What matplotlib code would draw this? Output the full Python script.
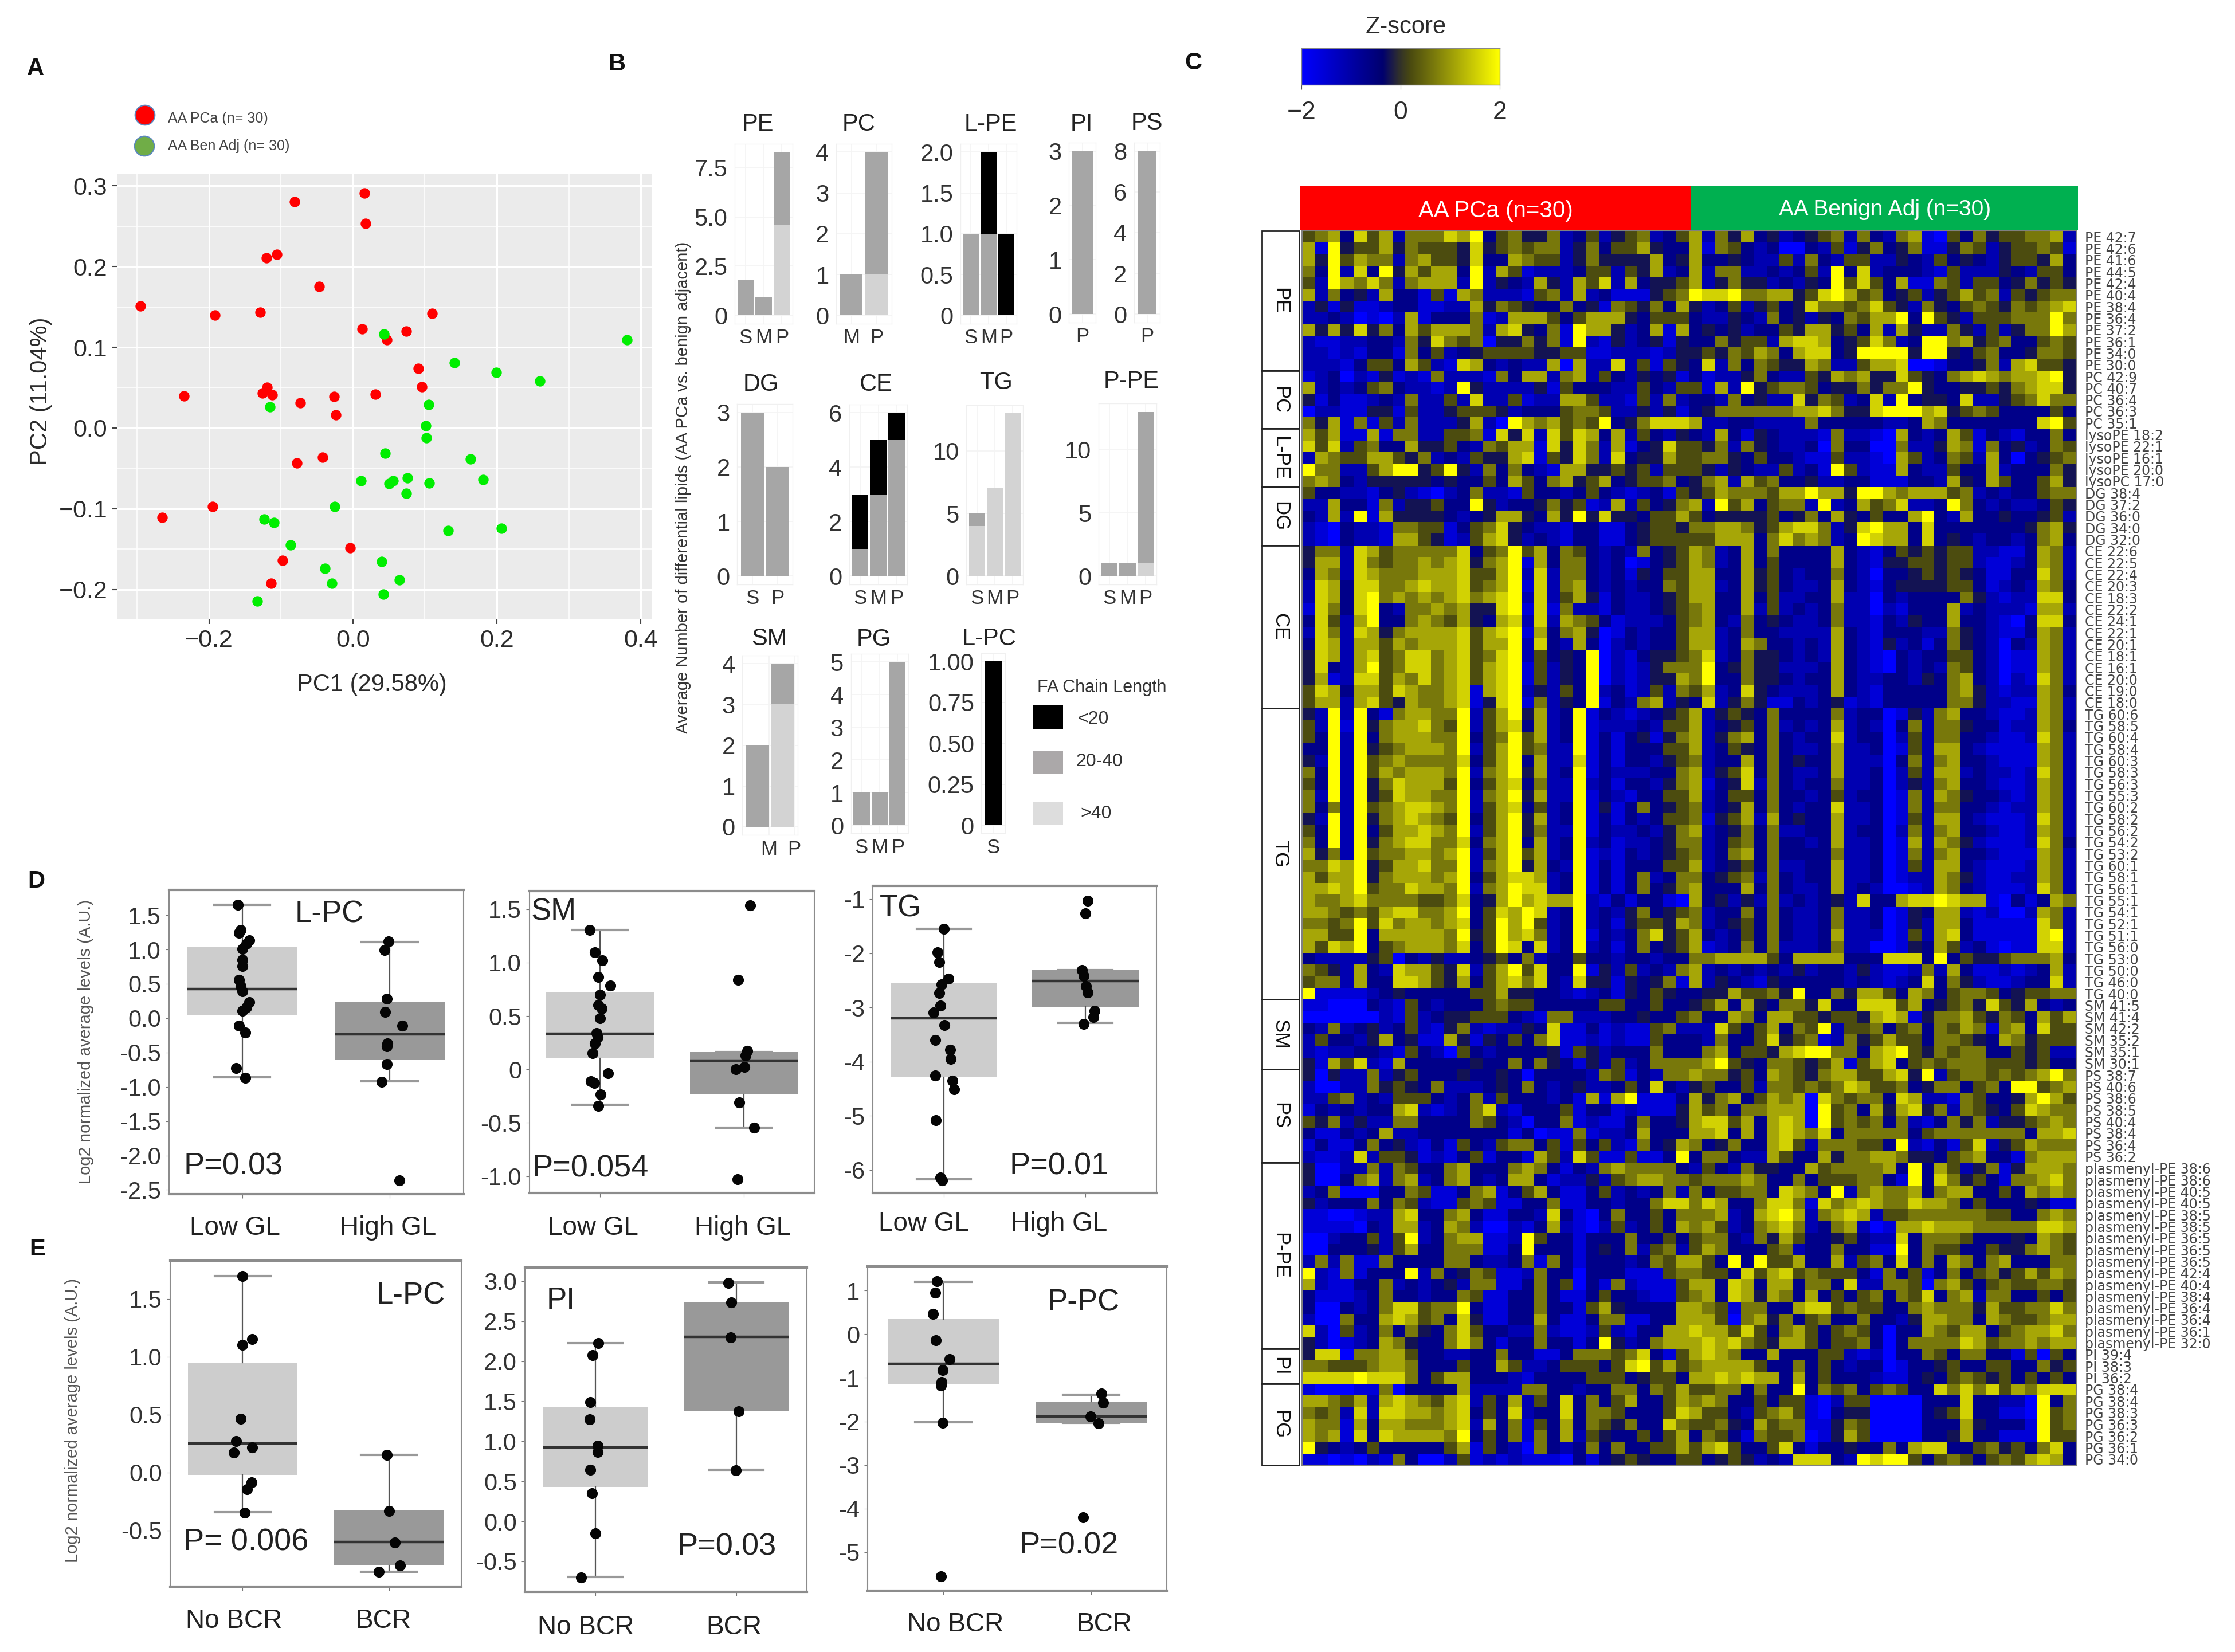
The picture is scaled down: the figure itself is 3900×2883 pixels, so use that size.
import numpy as np
import matplotlib
matplotlib.use('Agg')
import matplotlib.pyplot as plt
from matplotlib.colors import LinearSegmentedColormap
from matplotlib.patches import Rectangle
from matplotlib.transforms import ScaledTranslation

plt.rcParams['font.family'] = ['Liberation Sans', 'DejaVu Sans']
W, H = 3900, 2883
fig = plt.figure(figsize=(W / 100, H / 100), dpi=100, facecolor='white')
PT = 0.72
TXT = '#2b2b2b'

# ---------------- Panel A data
pca_x = [.016,-.081,.018,-.106,-.120,-.047,-.295,-.192,-.129,.110,.013,.074,.047,.091,.096,-.235,-.126,-.119,-.112,-.073,-.026,.031,-.024,-.042,-.078,-.195,-.265,-.004,-.098,-.114]
pca_y = [.291,.280,.253,.215,.211,.175,.151,.140,.143,.142,.123,.120,.109,.074,.051,.040,.043,.050,.041,.031,.039,.042,.016,-.036,-.043,-.097,-.111,-.148,-.164,-.192]
ben_x = [.043,.381,.141,.199,.260,.105,-.115,.101,.102,.045,.163,.076,.181,.011,.056,.050,.106,.074,-.025,-.123,-.110,.132,.206,-.087,.040,-.039,-.029,.065,.042,-.133]
ben_y = [.116,.109,.081,.069,.058,.029,.026,.003,-.012,-.031,-.038,-.062,-.064,-.065,-.065,-.069,-.068,-.081,-.097,-.113,-.117,-.127,-.124,-.145,-.165,-.174,-.192,-.188,-.206,-.214]

# ---------------- Panel B data: (categories, light >40, medium 20-40, black <20)
PE_cats, PE_light, PE_med, PE_black = ['S','M','P'], [0,0,4.6], [1.8,.9,3.7], [0,0,0]
PC_cats, PC_light, PC_med, PC_black = ['M','P'], [0,1], [1,3], [0,0]
LPE_cats, LPE_light, LPE_med, LPE_black = ['S','M','P'], [0,0,0], [1,1,0], [0,1,1]
PI_cats, PI_light, PI_med, PI_black = ['P'], [0], [3], [0]
PS_cats, PS_light, PS_med, PS_black = ['P'], [0], [8], [0]
DG_cats, DG_light, DG_med, DG_black = ['S','P'], [0,0], [3,2], [0,0]
CE_cats, CE_light, CE_med, CE_black = ['S','M','P'], [0,0,0], [1,3,5], [2,2,1]
TG_cats, TG_light, TG_med, TG_black = ['S','M','P'], [4,7,13], [1,0,0], [0,0,0]
PPE_cats, PPE_light, PPE_med, PPE_black = ['S','M','P'], [0,0,1], [1,1,12], [0,0,0]
SM_cats, SM_light, SM_med, SM_black = ['M','P'], [0,3], [2,1], [0,0]
PG_cats, PG_light, PG_med, PG_black = ['S','M','P'], [0,0,0], [1,1,5], [0,0,0]
LPC_cats, LPC_light, LPC_med, LPC_black = ['S'], [0], [0], [1]

# ---------------- Panel C data: one digit per cell, 0 = z -2 ... 9 = z +2
heat_PE = [
"5673857266 6879356446 2352456235 7264734234 5626326710 5364556672",
"7194557465 5548456566 2463557433 7165323003 2514634611 4652455651",
"7495766267 5548337655 2464444734 7334322526 3255224325 3432455473",
"6392839475 7739275122 2355254723 7266223235 2938233321 5222432553",
"5297686267 7729243274 2758273445 7246442324 3958537116 5255346454",
"7263427331 5176222156 2723111456 9889667745 8975634524 5756254566",
"2414112331 1227465433 6341654637 4235245348 6656854264 3565465678",
"2232010271 3336127775 3577743555 3224326342 4365779395 4255566696",
"7474846375 7776278436 1977423717 3434233547 7453727422 6425246697",
"2112233264 8656044646 1921423414 3364552788 7345862399 6745633565",
"2212133163 5234555544 5511222124 4546576378 8349999499 4356334665",
"2221355375 2187323227 0722825154 3826365447 6225778001 3346278554",
]
heat_PC = [
"1230214121 6222163772 6725324341 3122463225 4767448543 6787677894",
"7232356322 1294222241 5333225325 5172945665 3446466943 3445467884",
"4131123262 2528225122 7752215262 3326342284 6523829344 3822456866",
"0221144152 2455542333 5665224241 3466666677 8644899978 4565333353",
"6471615262 2247209767 5659346888 7223322226 3333322376 3333333895",
]
heat_LPE = [
"7571171662 2556184828 5873725324 3273143222 1622107323 7513213363",
"8582563374 4532657718 4862713485 5462643223 0633006224 7616342365",
"2765577546 2325447815 4862834475 5664353321 1522107523 6527303456",
"9662257994 5942636321 7744545255 5424322523 1952117322 5337233364",
"6763244444 3433537536 7457345563 4672756334 2233111332 7437533574",
]
heat_DG = [
"5332213421 0236221533 2353212315 4576665779 7749976777 5623233566",
"2273316244 5339423346 4512725346 7295735662 9237568223 9632322354",
"3272917444 4323477437 4948443557 5344445346 3743533793 2733433452",
"2103221665 5135684322 1331134554 6677645788 6248977383 3333334674",
"2103221775 4125784232 1331134555 5577736867 6239877383 4323323673",
]
heat_CE = [
"4662875666 6683569573 6532326345 7623736333 3732135454 5522113762",
"4772865667 6784679173 6632301345 7623735333 3732144554 5521123762",
"3762876667 7785579282 6632314355 7733745323 3632033454 5431133862",
"2873886678 7785679182 6732323365 7723745322 3732134444 5531232763",
"2873896767 6786789282 5741322345 7733735223 3722032333 3642122883",
"1863893266 7674489181 6221322345 6733725232 3622021333 7232221772",
"3852793367 6574378282 7653122235 6732634322 3622132433 7332103883",
"2862874677 7785789173 6740132335 7723633222 2732133322 6432113762",
"3872775767 7785779283 2730232335 7723763323 2732142313 6432032762",
"4872785688 6785689253 4390213445 6823644323 2732103233 5532011762",
"4832795688 6785789152 4390212466 6934644222 3732103232 6532011762",
"4712885768 6785789152 4390212447 6933644323 3732233243 6732021862",
"5873775876 6781789242 5392312526 5723843222 3732133333 6742122763",
"5772785476 6781489162 4391326724 3824641132 3412133333 6642211762",
]
heat_TG = [
"4292931677 6692579472 3913212345 7245436333 3623301426 7332112762",
"5291946778 6592578372 3912223255 7234536232 3723203626 6433122763",
"5392936777 6693569572 3913134146 7246736323 3823302526 6332112862",
"3392945677 7692579562 2913133355 7235436322 3722301527 7321111762",
"4292956766 6683579372 2813133245 6233736343 3722203626 7332111762",
"6392957677 7692679472 3913222336 7245836322 3722302527 7232212862",
"5392946877 7593578362 2923133246 7134826323 3622302426 7332112762",
"6292945877 6692679472 2913213355 7235536332 3523301627 6433212762",
"6362956788 7692578352 3914136345 6234736323 3822301626 6332122762",
"4292946787 6593579472 3913132355 6145727343 3722301527 7321112862",
"5392935778 7692579462 2913223246 7234636223 3723302626 7332112762",
"6392946788 6683679372 3923122346 6235636332 3722301727 6421112863",
"7462956677 6792579572 3912132345 6236736333 3622301626 7332111762",
"6687945778 6692679473 2913133355 7234536223 3722301527 7321112762",
"7577946777 6793578872 3913136236 6345626323 3722301227 6421122762",
"7787956687 7692679882 3913136346 7333736322 3723200127 6321112862",
"7667866665 5683479787 7921313310 7342426232 3428337889 8771031376",
"7765657886 6793587982 3923246345 6233636322 3622301437 7212002762",
"6656958677 6783597952 3923145547 6234536322 3622301427 7311111862",
"7755937777 7694597862 3913236845 7323536322 3722201527 8311111892",
"7587935677 7683598382 3923136345 7123636222 3622001437 5231011882",
"3222245032 4223453623 3533233233 6677775377 7733388839 3544566673",
"6542732877 5482579583 3914252326 7232323242 3324211262 7311212372",
"5662733887 5473578683 2844143461 7243214333 3323212383 6421123382",
"9111123433 3335574433 2123143543 3447556493 3647753763 5665345566",
]
heat_SM = [
"1100032153 2333565533 3335533533 4573743664 8338885734 5648547323",
"0000002152 3445553216 6222334335 6337637755 4554787146 6754653757",
"3262342352 1462122438 1131211562 2285357365 9255635636 5761673855",
"2533247341 1741435368 1121211533 3263358456 1264575536 6543764555",
"2122332153 2053233334 1542333633 3673554789 9663789546 5663354522",
"4175821733 3334336364 3142523666 6795436654 5715783565 6665554533",
]
heat_PS = [
"4042262453 3343343033 3326513266 7664537654 6775578492 5665656796",
"2002264543 6222343632 3422353832 4533526656 5687556346 6356399567",
"2256232555 3236253332 3171791113 7467357670 8656638722 1653347975",
"1323233782 1236821333 5133121114 7563667770 9563747846 2654358766",
"5462422663 3336532033 6121136334 7885737870 9565636213 6462445676",
"3113237223 3333331301 1612237333 7783737876 8366666356 6666663778",
"1311363421 3153256635 1535216347 6346337852 6665539213 1582457666",
"2112825541 2135133175 2851151139 3663227533 7466776443 5673316777",
]
heat_PPE = [
"4002262653 3673336763 1326766663 2532644337 5666673937 5246147776",
"4003672672 3673237731 2242567766 5666763363 5556631938 6453166786",
"2360003365 1136713573 1135232362 6355663876 3926766736 7733537676",
"4233363652 1156511336 1133233688 6873368861 8678766877 6353334311",
"1100122783 3673113328 3103633536 6672378972 6787255666 6665533676",
"1111032772 3762002137 2102523537 6752367862 3672017787 7766666887",
"0023352592 3677112953 3133363353 5663264753 3453228366 6533343765",
"0033342573 3666113933 3134362562 5763335623 3633119365 5335446765",
"2626116333 3663223616 3133323657 7539395573 3725638363 7636733366",
"9216133392 6346511263 3033311156 6553857856 5553163513 6356457576",
"7211336232 3426611363 5031621115 7738737736 6382266506 7535655665",
"3111236332 3365113363 1135332115 6738747637 3535636583 6726633535",
"3003236885 6693113363 3157433337 7651663378 8565533676 6647556686",
"2006337875 6384113373 1136611337 7750674635 6336332477 6637655677",
"8205236364 3685332262 1125213377 8775853675 3565303376 5773567786",
"4201237643 3686313363 3139423677 7878654775 3556303666 6875667677",
]
heat_PI = [
"4880667753 3223363311 3666568315 7876337333 5521203365 3663315053",
"6655567763 3353375223 5553589575 6777753363 5323301334 5335533645",
"8888988863 5773332133 3355534553 7787877373 5333211343 5654535353",
]
heat_PG = [
"1000116033 3372222663 3233663657 5566363393 6563565338 6868576888",
"7765727876 5782537253 8363573357 6763353551 0255000033 3833220936",
"6562828877 6783538233 8366533358 7553256751 0344000034 5833110956",
"7661737766 6782736153 7365463386 5564375661 1465000033 3743331956",
"7671838777 7693536163 7254335357 3653165560 1475000033 4733111955",
"9432353333 3571532063 2363633557 5785335831 3343363788 3356453683",
"1101021630 0251212111 0313454335 5345423288 8329899535 6535657873",
]
row_labels = (
    ['PE 42:7','PE 42:6','PE 41:6','PE 44:5','PE 42:4','PE 40:4','PE 38:4','PE 36:4','PE 37:2','PE 36:1','PE 34:0','PE 30:0'] +
    ['PC 42:9','PC 40:7','PC 36:4','PC 36:3','PC 35:1'] +
    ['lysoPE 18:2','lysoPE 22:1','lysoPE 16:1','lysoPE 20:0','lysoPC 17:0'] +
    ['DG 38:4','DG 37:2','DG 36:0','DG 34:0','DG 32:0'] +
    ['CE 22:6','CE 22:5','CE 22:4','CE 20:3','CE 18:3','CE 22:2','CE 24:1','CE 22:1','CE 20:1','CE 18:1','CE 16:1','CE 20:0','CE 19:0','CE 18:0'] +
    ['TG 60:6','TG 58:5','TG 60:4','TG 58:4','TG 60:3','TG 58:3','TG 56:3','TG 55:3','TG 60:2','TG 58:2','TG 56:2','TG 54:2','TG 53:2','TG 60:1','TG 58:1','TG 56:1','TG 55:1','TG 54:1','TG 52:1','TG 51:1','TG 56:0','TG 53:0','TG 50:0','TG 46:0','TG 40:0'] +
    ['SM 41:5','SM 41:4','SM 42:2','SM 35:2','SM 35:1','SM 30:1'] +
    ['PS 38:7','PS 40:6','PS 38:6','PS 38:5','PS 40:4','PS 38:4','PS 36:4','PS 36:2'] +
    ['plasmenyl-PE 38:6','plasmenyl-PE 38:6','plasmenyl-PE 40:5','plasmenyl-PE 40:5','plasmenyl-PE 38:5','plasmenyl-PE 38:5','plasmenyl-PE 36:5','plasmenyl-PE 36:5','plasmenyl-PE 36:5','plasmenyl-PE 42:4','plasmenyl-PE 40:4','plasmenyl-PE 38:4','plasmenyl-PE 36:4','plasmenyl-PE 36:4','plasmenyl-PE 36:1','plasmenyl-PE 32:0'] +
    ['PI 39:4','PI 38:3','PI 36:2'] +
    ['PG 38:4','PG 38:4','PG 38:3','PG 36:3','PG 36:2','PG 36:1','PG 34:0'])
group_names = ['PE','PC','L-PE','DG','CE','TG','SM','PS','P-PE','PI','PG']
group_rows = [heat_PE, heat_PC, heat_LPE, heat_DG, heat_CE, heat_TG, heat_SM, heat_PS, heat_PPE, heat_PI, heat_PG]

# ---------------- Panels D / E data
D1_low = dict(q1=.043, med=.424, q3=1.046, whislo=-.858, whishi=1.654)
D1_high = dict(q1=-.604, med=-.235, q3=.232, whislo=-.916, whishi=1.108)
D1_low_y = [1.654,1.281,1.238,1.137,1.082,1.01,.847,.757,.557,.467,.395,.232,.159,.105,-.112,-.21,-.728,-.872]
D1_low_j = [-.03,-.01,-.02,.05,.03,0,0,0,-.02,-.01,0,.05,.03,0,-.02,.02,-.04,.02]
D1_high_y = [1.119,.992,.286,.087,-.112,-.366,-.409,-.666,-.927,-2.364]
D1_high_j = [-.01,-.035,-.02,-.03,.085,-.015,-.02,-.02,-.055,.065]
D2_low = dict(q1=.105, med=.333, q3=.726, whislo=-.33, whishi=1.305)
D2_high = dict(q1=-.233, med=.081, q3=.163, whislo=-.544, whishi=.163)
D2_low_y = [1.305,1.098,1.023,.865,.784,.698,.6,.57,.477,.337,.302,.244,.151,-.035,-.112,-.128,-.233,-.342]
D2_low_j = [-.07,-.035,.015,-.01,.07,0,-.01,.01,0,-.025,-.015,-.035,-.05,.055,-.065,-.04,.005,-.01]
D2_high_y = [1.535,.837,.174,.128,.023,0,-.309,-.547,-1.03]
D2_high_j = [.045,-.04,.025,.01,.005,-.055,-.03,.07,-.045]
D3_low = dict(q1=-4.29, med=-3.2, q3=-2.55, whislo=-6.17, whishi=-1.555)
D3_high = dict(q1=-2.99, med=-2.51, q3=-2.31, whislo=-3.29, whishi=-2.31)
D3_low_y = [-1.555,-1.986,-2.16,-2.47,-2.58,-2.74,-2.97,-3.1,-3.33,-3.6,-3.78,-3.95,-4.26,-4.35,-4.51,-5.08,-6.14,-6.19]
D3_low_j = [0,-.045,-.03,.035,-.015,-.03,-.025,-.07,.005,-.06,.045,.05,-.06,.06,.075,-.055,-.025,-.01]
D3_high_y = [-1.03,-1.27,-2.31,-2.42,-2.61,-2.72,-3.06,-3.18,-3.31]
D3_high_j = [.015,0,-.025,-.015,.005,.015,.065,.055,-.015]
E1_low = dict(q1=-.019, med=.253, q3=.949, whislo=-.341, whishi=1.697)
E1_high = dict(q1=-.8, med=-.599, q3=-.327, whislo=-.854, whishi=.151)
E1_low_y = [1.697,1.153,1.105,.464,.272,.215,.175,-.085,-.144,-.346]
E1_low_j = [0,.065,0,-.015,-.045,.065,-.06,.06,.03,.015]
E1_high_y = [.151,-.334,-.606,-.8,-.857]
E1_high_j = [-.015,0,.04,.075,-.07]
E2_low = dict(q1=.428, med=.925, q3=1.432, whislo=-.692, whishi=2.223)
E2_high = dict(q1=1.377, med=2.305, q3=2.74, whislo=.644, whishi=2.983)
E2_low_y = [2.223,2.075,1.486,1.271,.945,.866,.644,.353,-.151,-.699]
E2_low_j = [.02,-.02,-.035,-.04,.015,.015,-.035,-.025,0,-.1]
E2_high_y = [2.98,2.733,2.298,1.373,.637]
E2_high_j = [-.055,-.035,-.04,.015,-.005]
E3_low = dict(q1=-1.145, med=-.673, q3=.346, whislo=-2.013, whishi=1.195)
E3_high = dict(q1=-2.031, med=-1.887, q3=-1.541, whislo=-2.031, whishi=-1.384)
E3_low_y = [1.214,.943,.459,-.138,-.579,-.83,-1.1,-1.182,-2.031,-5.553]
E3_low_j = [-.04,-.055,-.07,-.05,.045,-.005,-.01,-.015,-.005,-.015]
E3_high_y = [-1.365,-1.572,-1.887,-2.044,-4.195]
E3_high_j = [.07,.08,-.005,.05,-.055]


def ax_px(x0, y0, x1, y1, **kw):
    return fig.add_axes([x0 / W, 1 - y1 / H, (x1 - x0) / W, (y1 - y0) / H], **kw)


# ---------------- overlay for free text
ov = ax_px(0, 0, W, H, zorder=20)
ov.set_xlim(0, W); ov.set_ylim(H, 0); ov.axis('off'); ov.patch.set_alpha(0)


def T(x, y, s, size, color=TXT, ha='center', va='center', **kw):
    ov.text(x, y, s, fontsize=size, color=color, ha=ha, va=va, **kw)


for (x, y, s) in [(62, 120, 'A'), (1076, 112, 'B'), (2082, 110, 'C'), (63, 1538, 'D'), (65, 2180, 'E')]:
    T(x, y, s, 30, color='#111111', fontweight='bold')

# ---------------- Panel A
axA = ax_px(204, 303, 1137, 1081, facecolor='#EBEBEB')
axA.set_xlim(-.328, .415); axA.set_ylim(-.237, .315)
axA.set_xticks([-.2, 0, .2, .4], ['\u22120.2', '0.0', '0.2', '0.4'])
axA.set_yticks([-.2, -.1, 0, .1, .2, .3], ['\u22120.2', '\u22120.1', '0.0', '0.1', '0.2', '0.3'])
axA.set_xticks([-.3, -.1, .1, .3], minor=True)
axA.set_yticks([-.15, -.05, .05, .15, .25], minor=True)
axA.grid(True, which='major', color='white', lw=2.2)
axA.grid(True, which='minor', color='white', lw=1.1)
axA.set_axisbelow(True)
for sp in axA.spines.values():
    sp.set_visible(False)
axA.tick_params(axis='both', which='minor', length=0)
axA.tick_params(axis='both', which='major', labelsize=31, length=6, width=1.5, color='#444444', labelcolor=TXT, pad=6)
axA.scatter(pca_x, pca_y, s=175, color='#FF0000', linewidths=0, zorder=3)
axA.scatter(ben_x, ben_y, s=175, color='#00EE00', linewidths=0, zorder=3)
T(649, 1195, 'PC1 (29.58%)', 30)
T(71, 683, 'PC2 (11.04%)', 30, rotation=90)
ov.scatter([253, 252], [201, 255], s=620, color=['#FF0000', '#70AD47'], edgecolors='#5B87C0', linewidths=1.5)
T(293, 207, 'AA PCa (n= 30)', 18, color='#444444', ha='left')
T(293, 255, 'AA Ben Adj (n= 30)', 18, color='#444444', ha='left')

# ---------------- Panel B
C_L, C_M, C_K = '#D3D3D3', '#A6A6A6', '#000000'


def barpanel(title, tx, ty, cats, light, med, black, zx0, zx1, ztop, zbase, ticks, labels, off=0.0):
    fx = lambda z: 1150 + z / 1.65
    fy = lambda z: 60 + z / 1.081
    gap = .05 * (zbase - ztop)
    ax = ax_px(fx(zx0), fy(ztop - gap), fx(zx1), fy(zbase + gap))
    n = len(cats)
    pos = np.arange(1, n + 1)
    light, med, black = map(np.array, (light, med, black))
    ax.bar(pos, light, .9, color=C_L, zorder=3)
    ax.bar(pos, med, .9, bottom=light, color=C_M, zorder=3)
    ax.bar(pos, black, .9, bottom=light + med, color=C_K, zorder=3)
    m = (light + med + black).max()
    ax.set_xlim(.4, n + .6)
    ax.set_ylim(-.05 * m, 1.05 * m)
    ax.set_yticks(ticks, labels)
    ax.set_xticks(pos + off, cats)
    ax.grid(True, color='#F4F4F4', lw=1.2)
    ax.set_axisbelow(True)
    ax.tick_params(axis='y', labelsize=30, length=0, pad=9, labelcolor='#333333')
    ax.tick_params(axis='x', labelsize=25, length=0, pad=6, labelcolor='#333333')
    for sp in ax.spines.values():
        sp.set_color('#F0F0F0'); sp.set_linewidth(1)
    T(fx(tx), fy(ty), title, 30, color='#222222')


barpanel('PE', 285, 170, PE_cats, PE_light, PE_med, PE_black, 218, 385, 222, 530, [0, 2.5, 5, 7.5], ['0', '2.5', '5.0', '7.5'])
barpanel('PC', 575, 170, PC_cats, PC_light, PC_med, PC_black, 510, 670, 222, 530, [0, 1, 2, 3, 4], ['0', '1', '2', '3', '4'])
barpanel('L-PE', 955, 170, LPE_cats, LPE_light, LPE_med, LPE_black, 868, 1030, 222, 530, [0, .5, 1, 1.5, 2], ['0', '0.5', '1.0', '1.5', '2.0'])
barpanel('PI', 1216, 170, PI_cats, PI_light, PI_med, PI_black, 1180, 1258, 220, 528, [0, 1, 2, 3], ['0', '1', '2', '3'])
barpanel('PS', 1405, 168, PS_cats, PS_light, PS_med, PS_black, 1368, 1442, 220, 528, [0, 2, 4, 6, 8], ['0', '2', '4', '6', '8'])
barpanel('DG', 293, 660, DG_cats, DG_light, DG_med, DG_black, 225, 385, 713, 1022, [0, 1, 2, 3], ['0', '1', '2', '3'])
barpanel('CE', 625, 660, CE_cats, CE_light, CE_med, CE_black, 548, 715, 714, 1022, [0, 2, 4, 6], ['0', '2', '4', '6'])
barpanel('TG', 970, 657, TG_cats, TG_light, TG_med, TG_black, 885, 1048, 715, 1022, [0, 5, 10], ['0', '5', '10'])
barpanel('P-PE', 1360, 655, PPE_cats, PPE_light, PPE_med, PPE_black, 1265, 1432, 712, 1022, [0, 5, 10], ['0', '5', '10'])
barpanel('SM', 318, 1140, SM_cats, SM_light, SM_med, SM_black, 240, 400, 1187, 1495, [0, 1, 2, 3, 4], ['0', '1', '2', '3', '4'], off=.45)
barpanel('PG', 618, 1142, PG_cats, PG_light, PG_med, PG_black, 552, 718, 1184, 1492, [0, 1, 2, 3, 4, 5], ['0', '1', '2', '3', '4', '5'])
barpanel('L-PC', 950, 1140, LPC_cats, LPC_light, LPC_med, LPC_black, 928, 996, 1183, 1492, [0, .25, .5, .75, 1], ['0', '0.25', '0.50', '0.75', '1.00'])
T(1192, 851, 'Average Number of differential lipids (AA PCa vs. benign adjacent)', 21, rotation=90, color='#333333')
T(1923, 1200, 'FA Chain Length', 22, color='#333333')
for (y0, y1, c, s, yt, xt) in [(1230, 1272, '#000000', '<20', 1255, 1880), (1311, 1350, '#ABA8A9', '20-40', 1329, 1877), (1399, 1440, '#DDDDDD', '>40', 1420, 1885)]:
    ov.add_patch(Rectangle((1803, y0), 52, y1 - y0, color=c, lw=0))
    T(xt, yt, s, 23, color='#333333', ha='left')

# ---------------- Panel C
cmap = LinearSegmentedColormap.from_list('zs', [(0, '#0000FF'), (.41, '#00006E'), (.49, '#2E2E2E'), (.55, '#4A4A10'), (1, '#FFFF00')])
rows = [(s.replace(' ', '') + '4' * 60)[:60] for grp in group_rows for s in grp]
Z = np.array([[int(c) for c in r] for r in rows]) / 9 * 4 - 2
HX0, HY0, HX1, HY1 = 2272, 403, 3623, 2557
axH = ax_px(HX0, HY0, HX1, HY1)
axH.imshow(Z, cmap=cmap, vmin=-2, vmax=2, aspect='auto', interpolation='nearest')
axH.yaxis.tick_right()
axH.set_yticks(np.arange(len(row_labels)), row_labels, family='DejaVu Sans')
axH.set_xticks([])
axH.tick_params(axis='y', length=0, pad=11, labelsize=17, labelcolor='#444444')
for sp in axH.spines.values():
    sp.set_color('#808080'); sp.set_linewidth(1.5)
ov.add_patch(Rectangle((2269, 324), 681, 78, color='#FF0000', lw=0))
ov.add_patch(Rectangle((2950, 324), 676, 78, color='#00B050', lw=0))
T(2610, 368, 'AA PCa (n=30)', 29, color='white')
T(3289, 366, 'AA Benign Adj (n=30)', 28, color='white')
row_h = (HY1 - HY0) / len(rows)
r0 = 0
for name, grp in zip(group_names, group_rows):
    r1 = r0 + len(grp)
    ov.add_patch(Rectangle((2202, HY0 + r0 * row_h), 65, (r1 - r0) * row_h, fc='white', ec='#222222', lw=2))
    T(2234, HY0 + (r0 + r1) / 2 * row_h, name, 25, color='#111111', rotation=270)
    r0 = r1
axC = ax_px(2271, 84, 2617, 148)
axC.imshow(np.linspace(-2, 2, 256)[None, :], cmap=cmap, vmin=-2, vmax=2, aspect='auto', extent=[-2, 2, 0, 1])
axC.set_yticks([])
axC.set_xticks([-2, 0, 2], ['\u22122', '0', '2'])
axC.tick_params(axis='x', labelsize=32, length=6, color='#555555', labelcolor=TXT, pad=14)
for sp in axC.spines.values():
    sp.set_color('#888888'); sp.set_linewidth(1)
T(2453, 47, 'Z-score', 30)


# ---------------- Panels D / E
def boxpanel(box, ylim, ticks, ticklabels, low, high, ly, lj, hy, hj, cats, ctargets, cy, xlim):
    x0, y0, x1, y1 = box
    ax = ax_px(x0, y0, x1, y1)
    stats = [dict(d, fliers=[]) for d in (low, high)]
    parts = ax.bxp(stats, positions=[1, 2], widths=.75, patch_artist=True, manage_ticks=False, showfliers=False,
                   boxprops=dict(linewidth=0), medianprops=dict(color='#333333', lw=3.2),
                   whiskerprops=dict(color='#555555', lw=1.6), capprops=dict(color='#999999', lw=3), capwidths=.38)
    parts['boxes'][0].set_facecolor('#CDCDCD')
    parts['boxes'][1].set_facecolor('#999999')
    ax.scatter(np.array(lj) + 1, ly, s=190, color='#050505', linewidths=0, zorder=6)
    ax.scatter(np.array(hj) + 2, hy, s=190, color='#050505', linewidths=0, zorder=6)
    ax.set_xlim(*xlim); ax.set_ylim(*ylim)
    ax.set_yticks(ticks, ticklabels)
    ax.set_xticks([1, 2], cats)
    ax.tick_params(axis='y', labelsize=30, length=4, color='#777777', labelcolor='#333333', pad=6)
    ax.tick_params(axis='x', labelsize=33, length=5, color='#777777', labelcolor='#222222', pad=(cy - y1) * PT)
    span = (x1 - x0) / (xlim[1] - xlim[0])
    for lab, p, tx in zip(ax.get_xticklabels(), (1, 2), ctargets):
        lab.set_va('center')
        dx = tx - (x0 + (p - xlim[0]) * span)
        lab.set_transform(lab.get_transform() + ScaledTranslation(dx / 100, 0, fig.dpi_scale_trans))
    for k, sp in ax.spines.items():
        sp.set_color('#8C8C8C')
        sp.set_linewidth(3 if k in ('top', 'bottom') else 1.5)
    return ax


GL = ['Low GL', 'High GL']
BC = ['No BCR', 'BCR']
boxpanel((295, 1553, 809, 2084), (-2.563, 1.868), [-2.5, -2, -1.5, -1, -.5, 0, .5, 1, 1.5],
         ['-2.5', '-2.0', '-1.5', '-1.0', '-0.5', '0.0', '0.5', '1.0', '1.5'],
         D1_low, D1_high, D1_low_y, D1_low_j, D1_high_y, D1_high_j, GL, (410, 677), 2136, (.505, 2.5))
boxpanel((924, 1555, 1421, 2082), (-1.158, 1.67), [-1, -.5, 0, .5, 1, 1.5],
         ['-1.0', '-0.5', '0', '0.5', '1.0', '1.5'],
         D2_low, D2_high, D2_low_y, D2_low_j, D2_high_y, D2_high_j, GL, (1035, 1296), 2136, (.51, 2.49))
boxpanel((1523, 1546, 2018, 2082), (-6.427, -.757), [-6, -5, -4, -3, -2, -1],
         ['-6', '-5', '-4', '-3', '-2', '-1'],
         D3_low, D3_high, D3_low_y, D3_low_j, D3_high_y, D3_high_j, GL, (1612, 1848), 2129, (.5, 2.5))
boxpanel((297, 2200, 805, 2769), (-.985, 1.83), [-.5, 0, .5, 1, 1.5],
         ['-0.5', '0.0', '0.5', '1.0', '1.5'],
         E1_low, E1_high, E1_low_y, E1_low_j, E1_high_y, E1_high_j, BC, (408, 669), 2822, (.505, 2.495))
boxpanel((916, 2212, 1408, 2778), (-.88, 3.171), [-.5, 0, .5, 1, 1.5, 2, 2.5, 3],
         ['-0.5', '0.0', '0.5', '1.0', '1.5', '2.0', '2.5', '3.0'],
         E2_low, E2_high, E2_low_y, E2_low_j, E2_high_y, E2_high_j, BC, (1022, 1281), 2833, (.5, 2.5))
boxpanel((1514, 2210, 2036, 2776), (-5.88, 1.553), [-5, -4, -3, -2, -1, 0, 1],
         ['-5', '-4', '-3', '-2', '-1', '0', '1'],
         E3_low, E3_high, E3_low_y, E3_low_j, E3_high_y, E3_high_j, BC, (1667, 1927), 2828, (.49, 2.51))

for (x, y, s) in [(575, 1596, 'L-PC'), (966, 1592, 'SM'), (1572, 1586, 'TG'), (717, 2262, 'L-PC'), (979, 2270, 'PI'), (1891, 2273, 'P-PC')]:
    T(x, y, s, 38, color='#222222')
for (x, y, s) in [(407, 2036, 'P=0.03'), (1030, 2040, 'P=0.054'), (1848, 2035, 'P=0.01'), (429, 2691, 'P= 0.006'), (1268, 2700, 'P=0.03'), (1865, 2697, 'P=0.02')]:
    T(x, y, s, 39, color='#222222')
T(150, 1818, 'Log2 normalized average levels (A.U.)', 21, rotation=90, color='#555555')
T(127, 2479, 'Log2 normalized average levels (A.U.)', 21, rotation=90, color='#555555')

fig.savefig('out.png', dpi=100, facecolor='white')
